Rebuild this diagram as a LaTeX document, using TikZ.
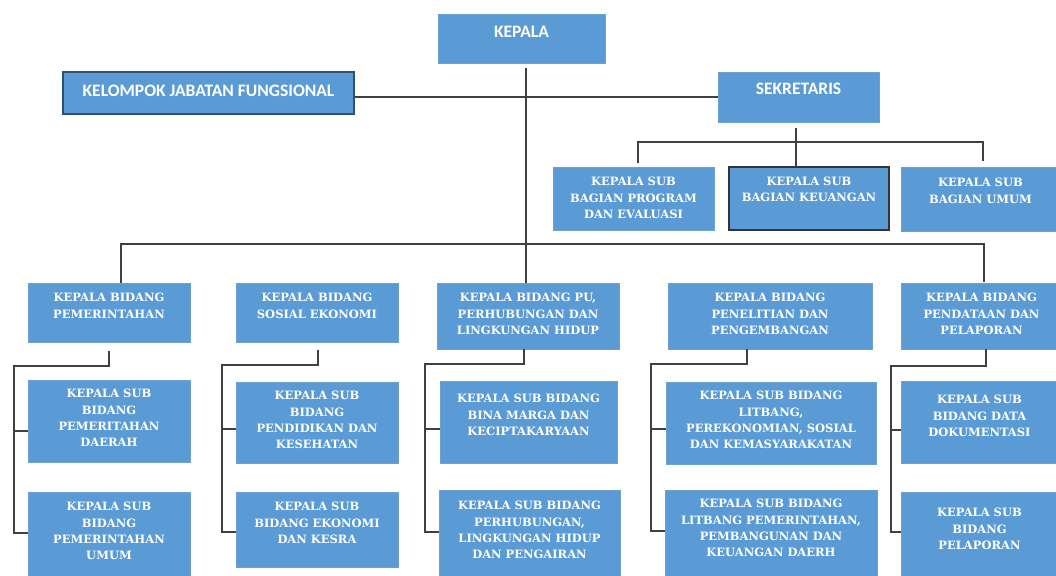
\documentclass[tikz,border=0pt]{standalone}
\usepackage{fontspec}
\setmainfont{DejaVu Serif}
\newfontfamily\calib{Carlito}
\usetikzlibrary{calc}
\definecolor{boxfill}{RGB}{91,155,213}
\definecolor{boxline}{RGB}{110,160,210}
\definecolor{darkline}{RGB}{45,80,120}
\definecolor{conn}{RGB}{64,64,64}
\begin{document}
\begin{tikzpicture}[x=1pt,y=-1pt,
  box/.style={draw=boxline,line width=0.8pt,fill=boxfill,rectangle,inner sep=0pt},
  lbl/.style={anchor=north,inner sep=0pt,align=center,text=white,font=\bfseries\fontsize{11.5}{16.3}\selectfont},
  toplbl/.style={inner sep=0pt,text=white,font=\calib\bfseries\fontsize{17.5}{20}\selectfont},
  link/.style={draw=conn,line width=1.3pt}]
\useasboundingbox (0,0) rectangle (1056,575);
% ---- boxes (x1,y1) to (x2,y2)
\newcommand{\mkbox}[6][]{\node[box,#1,minimum width={#4-#2},minimum height={#5-#3}] (#6) at ({(#2+#4)/2},{(#3+#5)/2}) {};}
\mkbox{438}{14}{605}{63}{kepala}
\mkbox[draw=darkline,line width=2.5pt]{63}{72}{354}{114}{kjf}
\mkbox{718}{72}{879}{122}{sek}
\mkbox{553}{167}{714}{230}{prog}
\mkbox[draw=black!80,line width=1.3pt]{729}{167}{889}{230}{keu}
\mkbox{901}{167}{1066}{231}{umum}
\mkbox{28}{283}{190}{342}{pem}
\mkbox{236}{283}{398}{342}{sos}
\mkbox{437}{283}{619}{349}{pu}
\mkbox{668}{283}{872}{349}{pen}
\mkbox{901}{283}{1066}{349}{pend}
\mkbox{28}{380}{190}{462}{pemA}
\mkbox{28}{492}{190}{585}{pemB}
\mkbox{236}{382}{398}{463}{sosA}
\mkbox{236}{492}{398}{567}{sosB}
\mkbox{440}{381}{617}{463}{puA}
\mkbox{439}{490}{620}{585}{puB}
\mkbox{666}{382}{876}{464}{penA}
\mkbox{665}{490}{877}{585}{penB}
\mkbox{901}{381}{1066}{463}{datA}
\mkbox{901}{492}{1066}{585}{datB}
% ---- labels
\node[toplbl] at ([yshift=-18pt]kepala.north) {KEPALA};
\node[toplbl] at ([yshift=2pt]kjf.center) {KELOMPOK JABATAN FUNGSIONAL};
\node[toplbl] at ([yshift=-17pt]sek.north) {SEKRETARIS};
\node[lbl] at ([yshift=-10.6pt]prog.north) {KEPALA SUB\\BAGIAN PROGRAM\\DAN EVALUASI};
\node[lbl] at ([yshift=-10.6pt]keu.north) {KEPALA SUB\\BAGIAN KEUANGAN};
\node[lbl,xshift=-3pt] at ([yshift=-11.6pt]umum.north) {KEPALA SUB\\BAGIAN UMUM};
\node[lbl] at ([yshift=-10.6pt]pem.north) {KEPALA BIDANG\\PEMERINTAHAN};
\node[lbl] at ([yshift=-10.6pt]sos.north) {KEPALA BIDANG\\SOSIAL EKONOMI};
\node[lbl] at ([yshift=-10.6pt]pu.north) {KEPALA BIDANG PU,\\PERHUBUNGAN DAN\\LINGKUNGAN HIDUP};
\node[lbl] at ([yshift=-10.6pt]pen.north) {KEPALA BIDANG\\PENELITIAN DAN\\PENGEMBANGAN};
\node[lbl,xshift=-2pt] at ([yshift=-10.6pt]pend.north) {KEPALA BIDANG\\PENDATAAN DAN\\PELAPORAN};
\node[lbl] at ([yshift=-9.6pt]pemA.north) {KEPALA SUB\\BIDANG\\PEMERITAHAN\\DAERAH};
\node[lbl] at ([yshift=-10.6pt]pemB.north) {KEPALA SUB\\BIDANG\\PEMERINTAHAN\\UMUM};
\node[lbl] at ([yshift=-9.6pt]sosA.north) {KEPALA SUB\\BIDANG\\PENDIDIKAN DAN\\KESEHATAN};
\node[lbl] at ([yshift=-10.6pt]sosB.north) {KEPALA SUB\\BIDANG EKONOMI\\DAN KESRA};
\node[lbl] at ([yshift=-13.6pt]puA.north) {KEPALA SUB BIDANG\\BINA MARGA DAN\\KECIPTAKARYAAN};
\node[lbl] at ([yshift=-11.6pt]puB.north) {KEPALA SUB BIDANG\\PERHUBUNGAN,\\LINGKUNGAN HIDUP\\DAN PENGAIRAN};
\node[lbl] at ([yshift=-9.6pt]penA.north) {KEPALA SUB BIDANG\\LITBANG,\\PEREKONOMIAN, SOSIAL\\DAN KEMASYARAKATAN};
\node[lbl] at ([yshift=-9.6pt]penB.north) {KEPALA SUB BIDANG\\LITBANG PEMERINTAHAN,\\PEMBANGUNAN DAN\\KEUANGAN DAERH};
\node[lbl,xshift=-4pt] at ([yshift=-14.6pt]datA.north) {KEPALA SUB\\BIDANG DATA\\DOKUMENTASI};
\node[lbl,xshift=-4pt] at ([yshift=-16.6pt]datB.north) {KEPALA SUB\\BIDANG\\PELAPORAN};
% ---- connectors
\draw[link] ([xshift=4.5pt,yshift=-5pt]kepala.south) -- ([xshift=4.5pt]kepala.south |- pu.north);
\draw[link] (kjf.east |- sek.west) -- (sek.west);
\draw[link] ([xshift=-2.5pt,yshift=-6pt]sek.south) -- ([xshift=-2.5pt]sek.south |- keu.north);
\draw[link] ([xshift=4.5pt,yshift=4pt]prog.north) |- (800,142) -| ([xshift=-0.5pt,yshift=6pt]umum.north);
\draw[link] ([xshift=12pt,yshift=0pt]pem.north) |- (500,244) -| ([xshift=0.5pt,yshift=1pt]pend.north);
% sub trees
\draw[link] ([yshift=-9pt]pem.south) |- (14,366) |- (pemB.west |- 0,533);
\draw[link] (14,431) -- (pemA.west |- 0,431);
\draw[link] ([xshift=1pt,yshift=-8pt]sos.south) |- (222,365) |- (sosB.west |- 0,532);
\draw[link] (222,429) -- (sosA.west |- 0,429);
\draw[link] ([xshift=-4pt]pu.south) |- (425,364) |- (puB.west |- 0,532);
\draw[link] (425,429) -- (puA.west |- 0,429);
\draw[link] ([xshift=-23pt]pen.south) |- (651,364) |- (penB.west |- 0,531);
\draw[link] (651,429) -- (penA.west |- 0,429);
\draw[link] ([xshift=2.5pt]pend.south) |- (891,366) |- (datB.west |- 0,532);
\draw[link] (891,430) -- (datA.west |- 0,430);
\end{tikzpicture}
\end{document}
